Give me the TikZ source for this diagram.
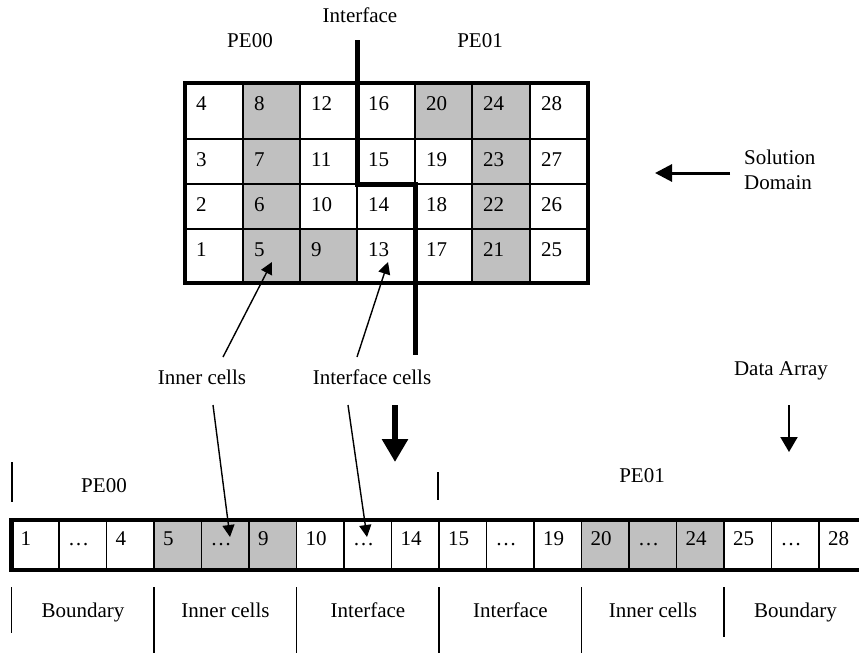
\documentclass[tikz,border=0pt]{standalone}
\usepackage{fontspec}
\setmainfont{Liberation Serif}
\usetikzlibrary{arrows.meta}
\definecolor{cellgray}{RGB}{192,192,192}
\begin{document}
\begin{tikzpicture}[x=1pt,y=-1pt,font=\fontsize{21}{25}\selectfont,
  thinline/.style={line width=1.5pt},
  border/.style={line width=4.5pt},
  lbl/.style={inner sep=0pt},
  blbl/.style={inner sep=0pt,anchor=base},
  num/.style={anchor=base west,inner sep=0pt},
  ptr/.style={line width=1.4pt,-{Triangle[length=12pt,width=12pt]}},
  tick/.style={line width=1.5pt}]
\useasboundingbox (0,0) rectangle (859,653);
% ---------- solution domain grid ----------
\fill[cellgray] (243,83) rectangle (300,283);
\fill[cellgray] (300,229) rectangle (357,283);
\fill[cellgray] (415,83) rectangle (472,139);
\fill[cellgray] (472,83) rectangle (530,283);
\foreach \cx in {243,300,357,415,472,530} \draw[thinline] (\cx,83) -- (\cx,283);
\foreach \ry in {139,184,229} \draw[thinline] (185,\ry) -- (588,\ry);
\draw[border] (185,83) rectangle (588,283);
\foreach \cx [count=\i from 0] in {185,243,300,357,415,472,530} {
  \foreach \ry [count=\r from 0] in {83,139,184,229} {
    \pgfmathtruncatemacro\n{4*\i+4-\r}
    \node[num] (g\n) at (\cx+11,\ry+27) {\n};
  }
}
% interface line
\coordinate (ifA) at (357,40);
\coordinate (ifB) at (357,184);
\coordinate (ifC) at (415,184);
\coordinate (ifD) at (415,355);
\draw[line width=5pt] (ifA) -- (ifB) -- (ifC) -- (ifD);
% top labels
\node[blbl] (iface) at (360,22) {Interface};
\node[blbl] (pe00t) at (250,47) {PE00};
\node[blbl] (pe01t) at (480,47) {PE01};
% solution domain
\node[lbl,anchor=west,align=left] (sd) at (744,170) {Solution\\Domain};
\coordinate (sdtail) at (730,173);
\coordinate (sdtip) at (655,173);
\draw[line width=3pt,-{Triangle[length=17pt,width=17pt]}] (sdtail) -- (sdtip);
% cell pointer labels
\node[blbl] (inner) at (202,384) {Inner cells};
\node[blbl] (ifcells) at (372,384) {Interface cells};
\coordinate (in1) at (223,357); \coordinate (in1t) at (272,262);
\coordinate (ic1) at (357,357); \coordinate (ic1t) at (388,262);
\draw[ptr] (in1) -- (in1t);
\draw[ptr] (ic1) -- (ic1t);
\coordinate (in2) at (213,405); \coordinate (in2t) at (230,537);
\coordinate (ic2) at (348,405); \coordinate (ic2t) at (367,537);
% big arrow and data array
\coordinate (bigA) at (395,405); \coordinate (bigB) at (395,462);
\draw[line width=6pt,-{Triangle[length=23pt,width=25pt]}] (bigA) -- (bigB);
\node[blbl] (da) at (781,375) {Data Array};
\coordinate (daA) at (789,405); \coordinate (daB) at (789,452);
\draw[line width=2pt,-{Triangle[length=15pt,width=17pt]}] (daA) -- (daB);
% ticks above array
\draw[tick] (12,462) -- (12,502);
\draw[tick] (438,472) -- (438,500);
\node[blbl] (pe00b) at (104,492) {PE00};
\node[blbl] (pe01b) at (642,482) {PE01};
% ---------- data array ----------
\foreach \k in {3,4,5,12,13,14}
  \fill[cellgray] (11.5+47.5*\k,520) rectangle (59+47.5*\k,570);
\foreach \k in {1,...,17}
  \draw[thinline] (11.5+47.5*\k,520) -- (11.5+47.5*\k,570);
\draw[border] (11.5,520) rectangle (866.5,570);
\foreach \t [count=\k from 0] in {1,…,4,5,…,9,10,…,14,15,…,19,20,…,24,25,…,28}
  \node[num] (a\k) at (11.5+47.5*\k+9,545) {\t};
% pointers into the array
\draw[ptr] (in2) -- (in2t);
\draw[ptr] (ic2) -- (ic2t);
% ---------- bottom groups ----------
\draw[tick] (11.5,587) -- (11.5,633);
\foreach \k in {3,6,9,12}
  \draw[tick] (11.5+47.5*\k,587) -- (11.5+47.5*\k,653);
\draw[tick] (724,587) -- (724,637);
\foreach \t [count=\j from 0] in {Boundary,Inner cells,Interface,Interface,Inner cells,Boundary}
  \node[blbl] (b\j) at (83+142.5*\j,617) {\t};
\end{tikzpicture}
\end{document}
